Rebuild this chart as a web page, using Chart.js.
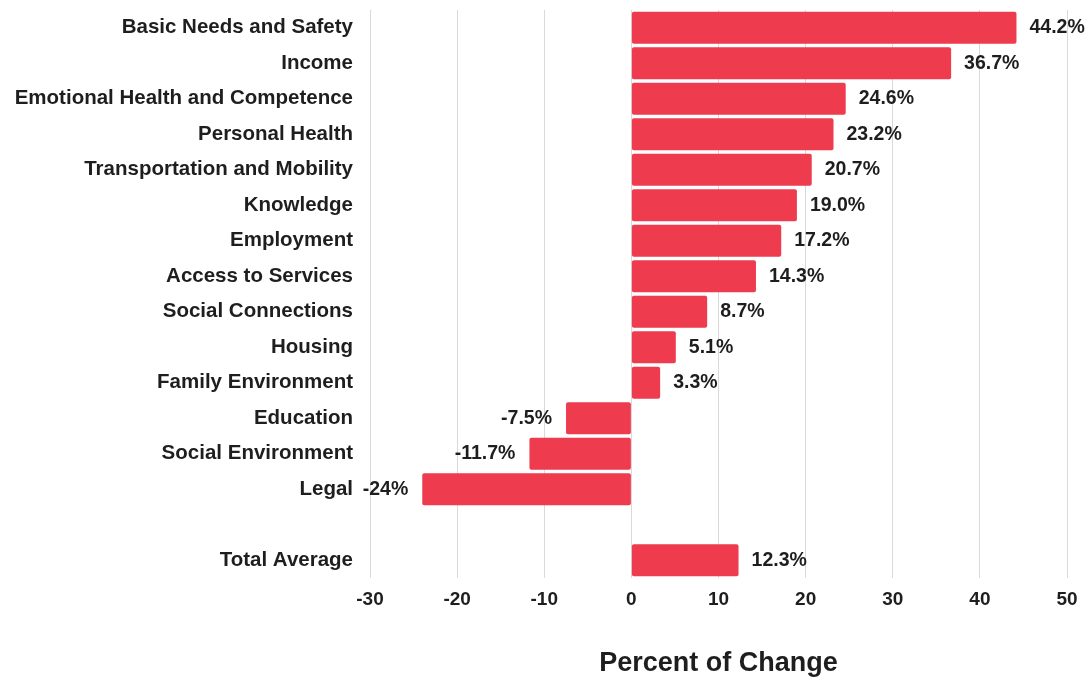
<!DOCTYPE html>
<html>
<head>
<meta charset="utf-8">
<script src="https://cdn.jsdelivr.net/npm/chart.js@4"></script>
<style>
  html, body { margin: 0; padding: 0; background: #fff; }
  #wrap { width: 1091px; height: 680px; }
</style>
</head>
<body>
<div id="wrap"><canvas id="chartCanvas"></canvas></div>
<script>
const categories = [
  "Basic Needs and Safety", "Income", "Emotional Health and Competence", "Personal Health",
  "Transportation and Mobility", "Knowledge", "Employment", "Access to Services",
  "Social Connections", "Housing", "Family Environment", "Education",
  "Social Environment", "Legal", "", "Total Average"
];
const changeValues = [44.2, 36.7, 24.6, 23.2, 20.7, 19.0, 17.2, 14.3, 8.7, 5.1, 3.3, -7.5, -11.7, -24, null, 12.3];
const valueLabels = ["44.2%", "36.7%", "24.6%", "23.2%", "20.7%", "19.0%", "17.2%", "14.3%",
  "8.7%", "5.1%", "3.3%", "-7.5%", "-11.7%", "-24%", "", "12.3%"];
const xTicks = [-30, -20, -10, 0, 10, 20, 30, 40, 50];

const FONT = "'Liberation Sans', Arial, sans-serif";

// value labels next to each bar
const barLabels = {
  id: 'barLabels',
  afterDatasetsDraw(chart) {
    const ctx = chart.ctx;
    const meta = chart.getDatasetMeta(0);
    ctx.save();
    ctx.font = "bold 19.5px " + FONT;
    ctx.fillStyle = "#1e1e1e";
    ctx.textBaseline = "middle";
    meta.data.forEach((bar, i) => {
      const v = changeValues[i];
      if (v === null) return;
      if (v >= 0) {
        ctx.textAlign = "left";
        ctx.fillText(valueLabels[i], bar.x + 13, bar.y);
      } else {
        ctx.textAlign = "right";
        ctx.fillText(valueLabels[i], bar.x - 14, bar.y);
      }
    });
    ctx.restore();
  }
};

const ctx = document.getElementById("chartCanvas").getContext("2d");
new Chart(ctx, {
  type: 'bar',
  data: {
    labels: categories,
    datasets: [{
      data: changeValues,
      backgroundColor: '#EF3B4E',
      borderRadius: 2,
      borderSkipped: false,
      barPercentage: 0.9,
      categoryPercentage: 1.0
    }]
  },
  options: {
    indexAxis: 'y',
    responsive: true,
    maintainAspectRatio: false,
    animation: false,
    layout: { padding: { top: 10, right: 24, left: 0, bottom: 0 } },
    plugins: { legend: { display: false }, tooltip: { enabled: false } },
    scales: {
      x: {
        min: -30,
        max: 50,
        afterBuildTicks(scale) { scale.ticks = xTicks.map(v => ({ value: v })); },
        afterFit(scale) { scale.height = 102; scale.paddingLeft = 0; scale.paddingRight = 0; },
        grid: { color: '#d9d9d9', drawTicks: false, lineWidth: 1 },
        border: { display: false },
        ticks: {
          padding: 10,
          color: '#1e1e1e',
          font: { family: FONT, size: 19, weight: 'bold' }
        },
        title: {
          display: true,
          text: 'Percent of Change',
          color: '#1e1e1e',
          padding: { top: 0, bottom: 0 },
          font: { family: FONT, size: 27, weight: 'bold' }
        }
      },
      y: {
        afterFit(scale) { scale.width = 370; scale.paddingTop = 0; scale.paddingBottom = 0; },
        grid: { display: false, drawTicks: false },
        border: { display: false },
        ticks: {
          padding: 17,
          color: '#1e1e1e',
          autoSkip: false,
          font: { family: FONT, size: 20.5, weight: 'bold' }
        }
      }
    }
  },
  plugins: [barLabels]
});
</script>
</body>
</html>
